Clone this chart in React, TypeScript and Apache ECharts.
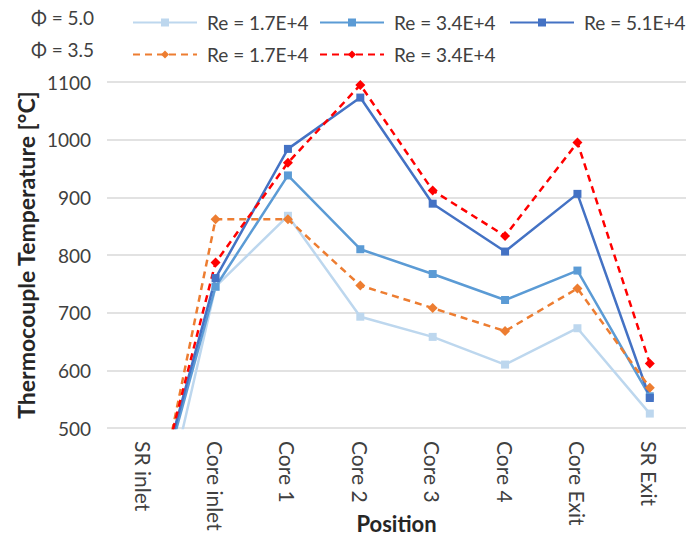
import React, { useEffect, useRef } from "react";
import * as echarts from "echarts";

const categories = ["SR inlet", "Core inlet", "Core 1", "Core 2", "Core 3", "Core 4", "Core Exit", "SR Exit"];
const phi50Re17 = [200, 745, 868, 693, 658, 610, 673, 525];
const phi50Re34 = [290, 745, 938, 810, 767, 722, 773, 555];
const phi50Re51 = [300, 760, 984, 1073, 889, 806, 906, 552];
const phi35Re17 = [250, 862, 862, 747, 708, 668, 742, 570];
const phi35Re34 = [295, 787, 960, 1095, 912, 833, 995, 612];
const yTicks = { min: 500, max: 1100, interval: 100 };
const legendRow1 = ["a|Re = 1.7E+4", "b|Re = 3.4E+4", "c|Re = 5.1E+4"];
const legendRow2 = ["d|Re = 1.7E+4", "e|Re = 3.4E+4"];

const FONT = "Lato, 'Noto Sans', sans-serif";

export default function App() {
  const ref = useRef<HTMLDivElement>(null);
  useEffect(() => {
    document.body.style.margin = "0";
    const chart = echarts.init(ref.current!, null, { renderer: "svg" });
    const mk = (name: string, data: number[], color: string, symbol: string, size: number, dashed: boolean) => ({
      name,
      type: "line",
      data,
      symbol,
      symbolSize: size,
      clip: true,
      lineStyle: { color, width: 2.5, type: dashed ? [7, 5] : "solid" },
      itemStyle: { color },
      emphasis: { disabled: true },
    });
    const legendText = { fontFamily: FONT, fontSize: 19, color: "#404040", padding: [0, 0, 0, 5] };
    const lg = (name: string, left: number, top: number) => ({
      data: [name],
      left,
      top,
      itemWidth: 64,
      itemHeight: 10,
      formatter: (n: string) => n.split("|")[1],
      textStyle: legendText,
      selectedMode: false,
    });
    chart.setOption({
      animation: false,
      grid: { left: 107, right: 2, top: 82, bottom: 110, containLabel: false, outerBoundsMode: "none" },
      graphic: [
        { type: "text", left: 31, top: 8, style: { text: "Φ = 5.0", fontFamily: FONT, fontSize: 19, fill: "#404040" } },
        { type: "text", left: 31, top: 40, style: { text: "Φ = 3.5", fontFamily: FONT, fontSize: 19, fill: "#404040" } },
      ],
      legend: [
        lg(legendRow1[0], 127, 8),
        lg(legendRow1[1], 314, 8),
        lg(legendRow1[2], 504, 8),
        lg(legendRow2[0], 127, 40),
        lg(legendRow2[1], 314, 40),
      ],
      xAxis: {
        type: "category",
        data: categories,
        boundaryGap: true,
        axisLine: { show: false },
        axisTick: { show: false },
        axisLabel: { rotate: -90, fontFamily: FONT, fontSize: 21, color: "#404040", margin: 13 },
        name: "Position",
        nameLocation: "middle",
        nameGap: 84,
        nameMoveOverlap: false,
        nameTextStyle: { fontFamily: FONT, fontSize: 22, fontWeight: "bold", color: "#262626" },
      },
      yAxis: {
        type: "value",
        min: yTicks.min,
        max: yTicks.max,
        interval: yTicks.interval,
        axisLine: { show: false },
        axisTick: { show: false },
        axisLabel: { fontFamily: FONT, fontSize: 19, color: "#404040", margin: 16, formatter: (v: number) => String(v) },
        splitLine: { lineStyle: { color: "#d9d9d9", width: 1.5 } },
        name: "Thermocouple Temperature [°C]",
        nameLocation: "middle",
        nameGap: 70,
        nameMoveOverlap: false,
        nameTextStyle: { fontFamily: FONT, fontSize: 23, fontWeight: "bold", color: "#262626" },
      },
      series: [
        mk(legendRow1[0], phi50Re17, "#BDD7EE", "rect", 8, false),
        mk(legendRow1[1], phi50Re34, "#5B9BD5", "rect", 8, false),
        mk(legendRow1[2], phi50Re51, "#4472C4", "rect", 8, false),
        mk(legendRow2[0], phi35Re17, "#ED7D31", "diamond", 10, true),
        mk(legendRow2[1], phi35Re34, "#FF0000", "diamond", 10, true),
      ],
    });
    return () => chart.dispose();
  }, []);
  return <div ref={ref} style={{ width: 688, height: 538 }} />;
}
